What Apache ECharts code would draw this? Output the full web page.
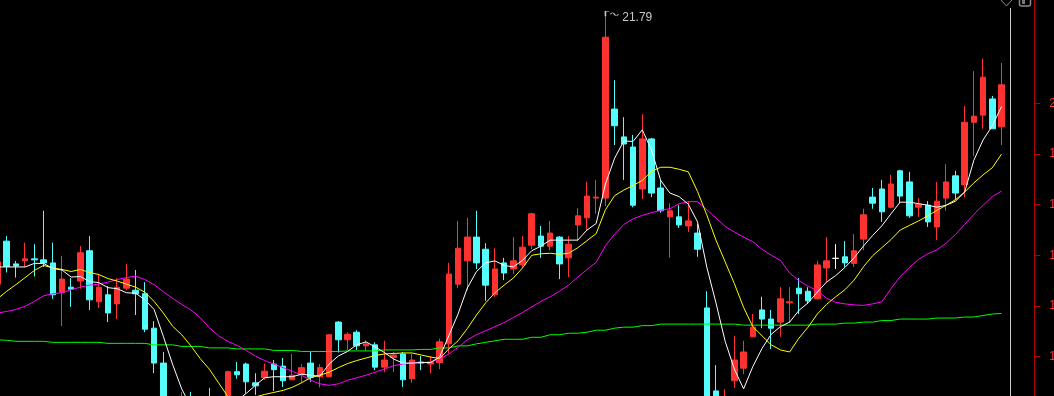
<!DOCTYPE html>
<html>
<head>
<meta charset="utf-8">
<script src="https://cdn.jsdelivr.net/npm/echarts@6/dist/echarts.min.js"></script>
<style>
html,body{margin:0;padding:0;background:#000;}
#chart{width:1054px;height:396px;}
</style>
</head>
<body>
<div id="chart"></div>
<script>
// ---- data ----
const opens = [16.43,17.28,16.83,16.89,16.93,16.91,16.85,16.27,16.37,16.49,
17.09,16.08,16.22,16.04,16.35,16.31,16.24,15.56,14.87,13.45,
13.85,14.10,13.95,14.05,13.70,13.90,14.70,14.85,14.48,14.58,
14.85,14.81,14.54,14.64,14.87,14.60,14.60,15.68,15.33,15.48,
15.21,15.23,14.79,14.98,15.05,14.56,14.89,14.85,14.88,15.25,
16.43,16.89,17.36,17.12,16.22,16.85,16.73,16.81,17.20,17.38,
17.18,17.36,16.95,17.60,17.74,18.13,18.13,19.89,19.34,19.14,
18.31,19.30,18.33,17.76,17.76,17.58,17.44,15.96,14.32,13.75,
14.52,14.77,15.39,15.92,15.74,15.68,16.06,16.35,16.29,16.14,
16.75,16.94,16.97,16.84,17.32,18.15,18.31,17.95,18.67,18.45,
17.95,17.99,17.56,18.13,18.57,18.39,19.63,19.77,20.09,19.54];
const closes = [16.87,16.78,16.79,16.93,16.91,16.85,16.22,16.53,16.33,17.05,
16.12,16.37,15.86,16.37,16.53,16.24,15.54,14.87,13.38,13.95,
14.05,13.80,13.70,13.75,13.85,14.70,14.64,14.50,14.42,14.71,
14.74,14.52,14.63,14.78,14.59,14.78,15.43,15.33,15.44,15.21,
15.25,14.79,14.93,15.03,14.54,14.93,14.87,14.89,15.29,16.63,
17.14,17.36,16.85,16.41,16.73,16.65,16.89,17.16,17.82,17.18,
17.44,16.83,17.22,17.78,18.17,18.15,21.31,19.56,19.20,17.99,
19.30,18.23,17.88,17.88,17.60,17.68,17.12,13.70,13.92,14.10,
14.93,15.09,15.58,15.74,15.56,16.14,16.08,16.24,16.10,16.81,
16.89,16.94,16.85,17.09,17.80,18.03,17.86,18.41,18.17,17.78,
18.01,17.66,18.07,18.45,18.23,19.63,19.75,20.52,19.50,20.37];
const lows = [16.35,16.66,16.56,16.77,16.58,16.77,16.14,15.60,15.98,16.34,
15.92,15.96,15.68,15.74,16.31,15.82,15.48,14.67,13.38,13.38,
13.60,13.70,13.55,13.60,13.55,13.80,14.56,14.27,14.24,14.54,
14.32,14.40,14.54,14.47,14.50,14.39,14.59,15.08,15.13,15.13,
15.11,14.73,14.69,14.69,14.40,14.48,14.73,14.67,14.75,15.06,
16.35,16.31,16.73,16.10,16.18,16.51,16.63,16.75,17.12,16.95,
17.10,16.53,16.57,17.28,17.50,17.82,17.97,19.18,18.49,17.95,
18.11,18.15,17.84,16.95,17.54,17.46,16.97,13.70,13.65,13.60,
14.38,14.65,15.39,15.56,15.15,15.39,15.66,15.84,16.04,16.12,
16.45,16.73,16.77,16.77,17.10,17.92,17.66,17.93,18.03,17.74,
17.76,17.56,17.30,17.88,18.09,18.15,18.96,19.50,19.50,19.18];
const highs = [16.95,17.38,16.89,17.25,17.22,17.88,17.25,16.99,16.55,17.18,
17.38,16.63,16.39,16.55,16.83,16.71,16.47,15.70,15.09,14.10,
14.30,14.30,14.10,14.38,14.05,14.72,14.89,14.88,14.67,14.86,
14.93,14.97,15.05,14.85,15.09,14.85,15.44,15.70,15.48,15.52,
15.32,15.28,15.31,15.09,15.09,15.05,15.01,15.01,15.35,16.85,
17.68,17.74,17.88,17.24,17.14,16.95,17.36,17.38,17.84,17.58,
17.68,17.38,17.38,17.93,18.45,18.49,21.79,20.46,19.73,19.38,
19.79,19.32,18.49,18.03,17.99,18.07,17.62,16.29,14.83,14.35,
15.41,15.31,15.84,16.18,15.92,16.37,16.37,16.55,16.37,16.89,
17.36,17.22,17.28,17.42,17.92,18.33,18.49,18.59,18.69,18.65,
18.13,18.07,18.45,18.80,18.67,19.95,20.64,20.88,20.15,20.80];
const ma5 = [16.77,16.77,16.77,16.77,16.84,16.84,16.74,16.71,16.57,16.58,
16.48,16.46,16.36,16.34,16.26,16.25,16.12,15.93,15.40,14.85,
14.36,14.01,13.78,13.85,13.83,13.96,14.13,14.27,14.43,14.58,
14.60,14.60,14.60,14.65,14.63,14.61,14.85,15.01,15.10,15.23,
15.29,15.19,15.08,14.95,14.87,14.87,14.88,14.88,14.99,15.41,
15.84,16.35,16.68,16.85,16.89,16.80,16.77,16.90,17.09,17.18,
17.30,17.30,17.30,17.30,17.50,17.63,18.41,18.92,19.26,19.25,
19.48,19.08,18.48,18.23,18.16,18.01,17.66,16.77,16.06,15.30,
14.75,14.36,14.80,15.16,15.44,15.59,15.68,15.91,16.06,16.27,
16.47,16.60,16.76,16.95,17.18,17.39,17.58,17.82,18.05,18.05,
18.02,17.99,17.95,17.99,18.07,18.25,18.88,19.28,19.56,19.94];
const ma10 = [16.14,16.29,16.42,16.56,16.70,16.80,16.75,16.72,16.68,16.72,
16.66,16.62,16.54,16.49,16.43,16.37,16.27,16.09,15.86,15.60,
15.43,15.21,14.96,14.75,14.48,14.21,14.14,14.16,14.20,14.25,
14.29,14.33,14.39,14.48,14.58,14.63,14.69,14.78,14.86,14.92,
14.97,15.02,15.05,15.06,15.07,15.07,15.03,14.99,14.96,15.15,
15.31,15.55,15.82,16.06,16.26,16.41,16.55,16.75,17.00,17.03,
17.04,17.02,17.04,17.15,17.29,17.43,17.90,18.18,18.29,18.38,
18.48,18.66,18.74,18.74,18.70,18.65,18.26,17.80,17.30,16.87,
16.44,15.97,15.59,15.41,15.23,15.13,15.09,15.36,15.58,15.84,
16.03,16.18,16.32,16.51,16.77,16.99,17.15,17.31,17.50,17.59,
17.68,17.78,17.89,17.99,18.10,18.25,18.43,18.59,18.73,19.00];
const ma20 = [15.86,15.89,15.93,15.99,16.09,16.20,16.24,16.26,16.32,16.37,
16.41,16.43,16.47,16.52,16.56,16.59,16.52,16.42,16.28,16.15,
16.03,15.92,15.77,15.57,15.41,15.30,15.22,15.12,15.01,14.92,
14.85,14.78,14.71,14.63,14.53,14.46,14.43,14.46,14.53,14.58,
14.63,14.69,14.75,14.82,14.85,14.87,14.88,14.89,14.95,15.05,
15.18,15.33,15.43,15.51,15.59,15.67,15.77,15.87,15.98,16.09,
16.18,16.29,16.41,16.57,16.72,16.86,17.19,17.42,17.61,17.72,
17.79,17.84,17.89,17.92,18.02,18.06,18.06,17.90,17.74,17.57,
17.46,17.36,17.27,17.12,17.00,16.90,16.65,16.50,16.39,16.30,
16.15,16.07,16.04,16.02,16.01,16.04,16.08,16.34,16.58,16.76,
16.92,17.03,17.11,17.24,17.41,17.61,17.81,17.99,18.16,18.27];
const ma60 = [15.33,15.32,15.30,15.30,15.30,15.30,15.28,15.28,15.28,15.28,
15.28,15.28,15.26,15.26,15.26,15.26,15.26,15.23,15.23,15.23,
15.20,15.20,15.20,15.17,15.17,15.17,15.15,15.15,15.15,15.15,
15.12,15.12,15.12,15.10,15.10,15.10,15.10,15.10,15.11,15.11,
15.11,15.11,15.13,15.13,15.13,15.13,15.14,15.14,15.17,15.17,
15.21,15.21,15.25,15.28,15.31,15.34,15.34,15.34,15.38,15.38,
15.43,15.43,15.46,15.46,15.48,15.52,15.52,15.56,15.58,15.58,
15.61,15.61,15.64,15.64,15.64,15.64,15.64,15.64,15.64,15.64,
15.64,15.62,15.62,15.62,15.62,15.62,15.62,15.62,15.62,15.64,
15.64,15.64,15.66,15.66,15.68,15.68,15.71,15.71,15.74,15.74,
15.74,15.74,15.76,15.76,15.76,15.78,15.78,15.81,15.84,15.85];
const yTicks = [15, 16, 17, 18, 19, 20];
const categories = opens.map((_, i) => 'D' + (i + 1));

// ---- build ----
const candles = opens.map((o, i) => [o, closes[i], lows[i], highs[i]]);
const UP = '#ff3232', DOWN = '#54fcfc';

const chart = echarts.init(document.getElementById('chart'), null, {renderer: 'canvas'});
chart.setOption({
  backgroundColor: '#000000',
  animation: false,
  textStyle: {fontFamily: 'Liberation Sans, Arial, sans-serif'},
  grid: {left: -7.12, right: 47.88, top: -48.3, bottom: -11.1, containLabel: false, outerBoundsMode: 'none'},
  xAxis: {
    type: 'category', data: categories, boundaryGap: true, show: false
  },
  yAxis: {
    type: 'value', position: 'right', offset: 28.2,
    min: 14, max: 23, interval: 1, scale: true,
    splitLine: {show: false},
    axisLine: {show: true, lineStyle: {color: '#b40000', width: 1}},
    axisTick: {show: true, length: 6, customValues: yTicks, lineStyle: {color: '#b40000'}},
    axisLabel: {show: true, customValues: yTicks, margin: 15, color: '#ff3232', fontSize: 12,
      formatter: v => v.toFixed(2)}
  },
  series: [
    {
      type: 'candlestick', data: candles, barWidth: 6,
      itemStyle: {color: UP, color0: DOWN, borderColor: UP, borderColor0: DOWN,
        borderColorDoji: '#ffffff', borderWidth: 1},
      markPoint: {
        symbol: 'path://M0,5 L0,0 L4,0 M5,3 C6.5,1 8,1 9,3 C10,5 11.5,5 13,3',
        symbolSize: [13, 5], symbolOffset: [6.5, 0.8],
        itemStyle: {color: 'transparent', borderColor: '#c8c8c8', borderWidth: 1},
        label: {show: true, position: 'right', distance: 3, offset: [0, 4],
          color: '#c8c8c8', fontSize: 12, formatter: '{c}'},
        data: [{type: 'max', valueDim: 'highest', name: 'max'}]
      }
    },
    {type: 'line', data: ma60, symbol: 'none', lineStyle: {color: '#00ff00', width: 1}, itemStyle: {color: '#00ff00'}},
    {type: 'line', data: ma20, symbol: 'none', lineStyle: {color: '#ff00ff', width: 1}, itemStyle: {color: '#ff00ff'}},
    {type: 'line', data: ma10, symbol: 'none', lineStyle: {color: '#ffff00', width: 1}, itemStyle: {color: '#ffff00'}},
    {type: 'line', data: ma5, symbol: 'none', lineStyle: {color: '#ffffff', width: 1}, itemStyle: {color: '#ffffff'}}
  ],
  graphic: [
    {type: 'line', shape: {x1: 1010.5, y1: 8, x2: 1010.5, y2: 396}, style: {stroke: '#c8c8c8', lineWidth: 1}},
    {type: 'polygon', shape: {points: [[1001, 0], [1006.5, 6], [1012, 0], [1006.5, -6]]},
      style: {fill: 'none', stroke: '#8a8a8a', lineWidth: 1}},
    {type: 'rect', shape: {x: 1019.5, y: -6, width: 11, height: 12, r: 2},
      style: {fill: 'none', stroke: '#8a8a8a', lineWidth: 1.5}},
    {type: 'rect', shape: {x: 1022, y: -2, width: 3, height: 6},
      style: {fill: '#777777'}}
  ]
});
</script>
</body>
</html>
